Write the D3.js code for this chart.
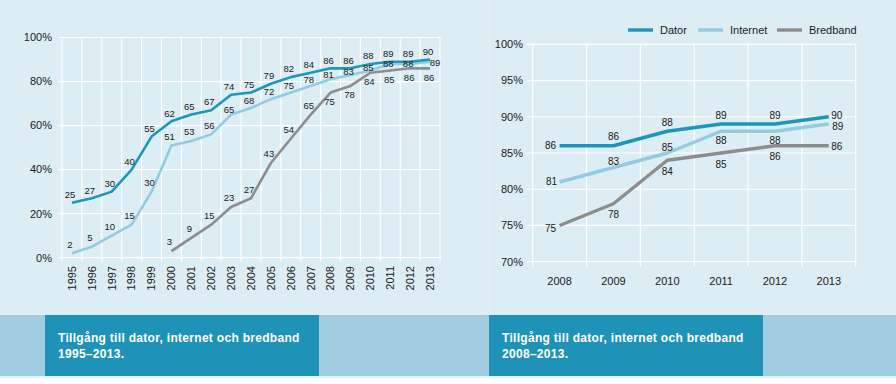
<!DOCTYPE html>
<html>
<head>
<meta charset="utf-8">
<script src="https://cdn.jsdelivr.net/npm/d3@7"></script>
<style>
  html, body { margin: 0; padding: 0; background: #ffffff; }
  svg { display: block; font-family: "Liberation Sans", Arial, Helvetica, sans-serif; }
</style>
</head>
<body>
<svg id="chart" width="896" height="384"></svg>
<script>
// ---- Data ----
const yearsAll = [1995,1996,1997,1998,1999,2000,2001,2002,2003,2004,2005,2006,2007,2008,2009,2010,2011,2012,2013];
const datorAll = [25,27,30,40,55,62,65,67,74,75,79,82,84,86,86,88,89,89,90];
const internetAll = [2,5,10,15,30,51,53,56,65,68,72,75,78,81,83,85,88,88,89];
const bredbandAll = [null,null,null,null,null,3,9,15,23,27,43,54,65,75,78,84,85,86,86];

const yearsRecent = [2008,2009,2010,2011,2012,2013];
const datorRecent = [86,86,88,89,89,90];
const internetRecent = [81,83,85,88,88,89];
const bredbandRecent = [75,78,84,85,86,86];

const ticksAll = [0,20,40,60,80,100];
const ticksRecent = [70,75,80,85,90,95,100];

const seriesNames = ["Dator","Internet","Bredband"];
const captionLeft = ["Tillgång till dator, internet och bredband", "1995–2013."];
const captionRight = ["Tillgång till dator, internet och bredband", "2008–2013."];

// ---- Styles ----
const colors = {Dator: "#1e96b9", Internet: "#93cbe1", Bredband: "#8d8d8d"};
const bgColor = "#dcedf4";
const bandColor = "#a2cde0";
const boxColor = "#1f93b7";
const textColor = "#1a1a1a";

const svg = d3.select("#chart");

// backgrounds
svg.append("rect").attr("x",0).attr("y",0).attr("width",896).attr("height",384).attr("fill","#ffffff");
svg.append("rect").attr("x",0).attr("y",0).attr("width",896).attr("height",315).attr("fill",bgColor);
svg.append("line").attr("x1",490).attr("x2",490).attr("y1",0).attr("y2",315).attr("stroke","#e7f2f7").attr("stroke-width",1);
svg.append("rect").attr("x",0).attr("y",315).attr("width",896).attr("height",61).attr("fill",bandColor);
svg.append("rect").attr("x",0).attr("y",376).attr("width",896).attr("height",2).attr("fill","#e3f0f6");

function caption(x, lines) {
  svg.append("rect").attr("x",x).attr("y",315).attr("width",274).attr("height",61).attr("fill",boxColor);
  const t = svg.append("text").attr("fill","#ffffff").attr("font-weight","bold")
    .attr("font-size","12px").attr("letter-spacing","0.3px");
  lines.forEach((l,i) => {
    t.append("tspan").attr("x", x + 13).attr("y", 342 + i*16).text(l);
  });
}
caption(45, captionLeft);
caption(489, captionRight);

// ---- Left chart ----
(function(){
  const x = d3.scaleBand().domain(yearsAll).range([62, 440]);
  const y = d3.scaleLinear().domain([0,100]).range([257.7, 37.5]);
  const g = svg.append("g");

  // horizontal grid + tick labels
  const yAxis = d3.axisLeft(y).tickValues(ticksAll).tickSize(-(440-58)).tickFormat(d => d + "%").tickPadding(6);
  const ya = g.append("g").attr("transform","translate(440,0)");
  // custom drawing for full control
  ticksAll.forEach(t => {
    g.append("line").attr("x1",58).attr("x2",440).attr("y1",y(t)).attr("y2",y(t))
      .attr("stroke","#ffffff").attr("stroke-width",1.2);
    g.append("text").attr("x",52).attr("y",y(t)).attr("dy","0.35em").attr("text-anchor","end")
      .attr("font-size","11px").attr("fill",textColor).text(t + "%");
  });
  // vertical grid at band edges
  const edges = yearsAll.map(d => x(d)).concat([x(yearsAll[yearsAll.length-1]) + x.bandwidth()]);
  edges.forEach(e => {
    g.append("line").attr("x1",e).attr("x2",e).attr("y1",y(100)).attr("y2",y(0)+4)
      .attr("stroke","#ffffff").attr("stroke-width",1.2);
  });
  // x labels rotated
  yearsAll.forEach(d => {
    const cx = x(d) + x.bandwidth()/2;
    g.append("text").attr("transform",`translate(${cx},266) rotate(-90)`)
      .attr("text-anchor","end").attr("dy","0.35em").attr("font-size","11px").attr("fill",textColor).text(d);
  });

  const cx = d => x(d) + x.bandwidth()/2;
  const data = {Dator: datorAll, Internet: internetAll, Bredband: bredbandAll};
  const line = d3.line().defined(d => d.v != null).x(d => cx(d.year)).y(d => y(d.v));
  seriesNames.slice().reverse().forEach(name => {
    const pts = yearsAll.map((yr,i) => ({year: yr, v: data[name][i]}));
    g.append("path").datum(pts).attr("d", line).attr("fill","none")
      .attr("stroke", colors[name]).attr("stroke-width",2.6).attr("stroke-linejoin","round");
  });
  // labels
  const last = yearsAll.length - 1;
  yearsAll.forEach((yr,i) => {
    const px = cx(yr);
    // Dator
    let dv = datorAll[i];
    let ox = -2, oy = -8;
    g.append("text").attr("x",px+ox).attr("y",y(dv)+oy).attr("dy","0.35em").attr("text-anchor","middle")
      .attr("font-size","9.5px").attr("fill",textColor).text(dv);
    // Internet
    let iv = internetAll[i];
    if (i === last) { ox = 5; oy = 1; }
    else {
      const gapPx = y(iv) - y(dv);
      ox = -2; oy = -Math.min(9, gapPx/2 - 0.5);
      if (gapPx > 24) { oy = -9; }
      else if (gapPx > 18) { oy = -5; }
    }
    g.append("text").attr("x",px+ox).attr("y",y(iv)+oy).attr("dy","0.35em").attr("text-anchor","middle")
      .attr("font-size","9.5px").attr("fill",textColor).text(iv);
    // Bredband
    let bv = bredbandAll[i];
    if (bv != null) {
      const gap = iv - bv;
      if (gap < 10) { ox = -1; oy = 9; }
      else { ox = -2; oy = -9; }
      g.append("text").attr("x",px+ox).attr("y",y(bv)+oy).attr("dy","0.35em").attr("text-anchor","middle")
        .attr("font-size","9.5px").attr("fill",textColor).text(bv);
    }
  });
})();

// ---- Right chart ----
(function(){
  const x = d3.scaleBand().domain(yearsRecent).range([532.7, 855.7]);
  const y = d3.scaleLinear().domain([70,100]).range([261.7, 44.3]);
  const g = svg.append("g");

  ticksRecent.forEach(t => {
    g.append("line").attr("x1",527).attr("x2",855.7).attr("y1",y(t)).attr("y2",y(t))
      .attr("stroke","#ffffff").attr("stroke-width",1.2);
    g.append("text").attr("x",523).attr("y",y(t)).attr("dy","0.35em").attr("text-anchor","end")
      .attr("font-size","11px").attr("fill",textColor).text(t + "%");
  });
  const edges = yearsRecent.map(d => x(d)).concat([x(yearsRecent[yearsRecent.length-1]) + x.bandwidth()]);
  edges.forEach(e => {
    g.append("line").attr("x1",e).attr("x2",e).attr("y1",y(100)).attr("y2",y(70)+5)
      .attr("stroke","#ffffff").attr("stroke-width",1.2);
  });
  yearsRecent.forEach(d => {
    g.append("text").attr("x", x(d) + x.bandwidth()/2).attr("y",281).attr("dy","0.35em")
      .attr("text-anchor","middle").attr("font-size","11px").attr("fill",textColor).text(d);
  });

  const cx = d => x(d) + x.bandwidth()/2;
  const data = {Dator: datorRecent, Internet: internetRecent, Bredband: bredbandRecent};
  const line = d3.line().x(d => cx(d.year)).y(d => y(d.v));
  seriesNames.slice().reverse().forEach(name => {
    const pts = yearsRecent.map((yr,i) => ({year: yr, v: data[name][i]}));
    g.append("path").datum(pts).attr("d", line).attr("fill","none")
      .attr("stroke", colors[name]).attr("stroke-width",3.4).attr("stroke-linejoin","round");
  });

  const last = yearsRecent.length - 1;
  yearsRecent.forEach((yr,i) => {
    const px = cx(yr);
    const dv = datorRecent[i], iv = internetRecent[i], bv = bredbandRecent[i];
    const put = (v, ox, oy) => g.append("text").attr("x",px+ox).attr("y",y(v)+oy).attr("dy","0.35em")
      .attr("text-anchor","middle").attr("font-size","10px").attr("fill",textColor).text(v);
    if (i === 0) {
      put(dv, -9, 0); put(iv, -8, 0); put(bv, -9, 3);
    } else if (i === last) {
      put(dv, 8, -1.5); put(iv, 9, 2.5); put(bv, 8, 1);
    } else {
      put(dv, 0, -9);
      if (dv - iv >= 3) put(iv, 0, -6); else put(iv, 0, 9);
      put(bv, 0, 11);
    }
  });

  // legend
  const legX = [628, 698, 777];
  seriesNames.forEach((name, i) => {
    g.append("line").attr("x1",legX[i]).attr("x2",legX[i]+25).attr("y1",30).attr("y2",30)
      .attr("stroke",colors[name]).attr("stroke-width",3.4);
    g.append("text").attr("x",legX[i]+32).attr("y",30).attr("dy","0.35em")
      .attr("font-size","11px").attr("fill",textColor).text(name);
  });
})();
</script>
</body>
</html>
